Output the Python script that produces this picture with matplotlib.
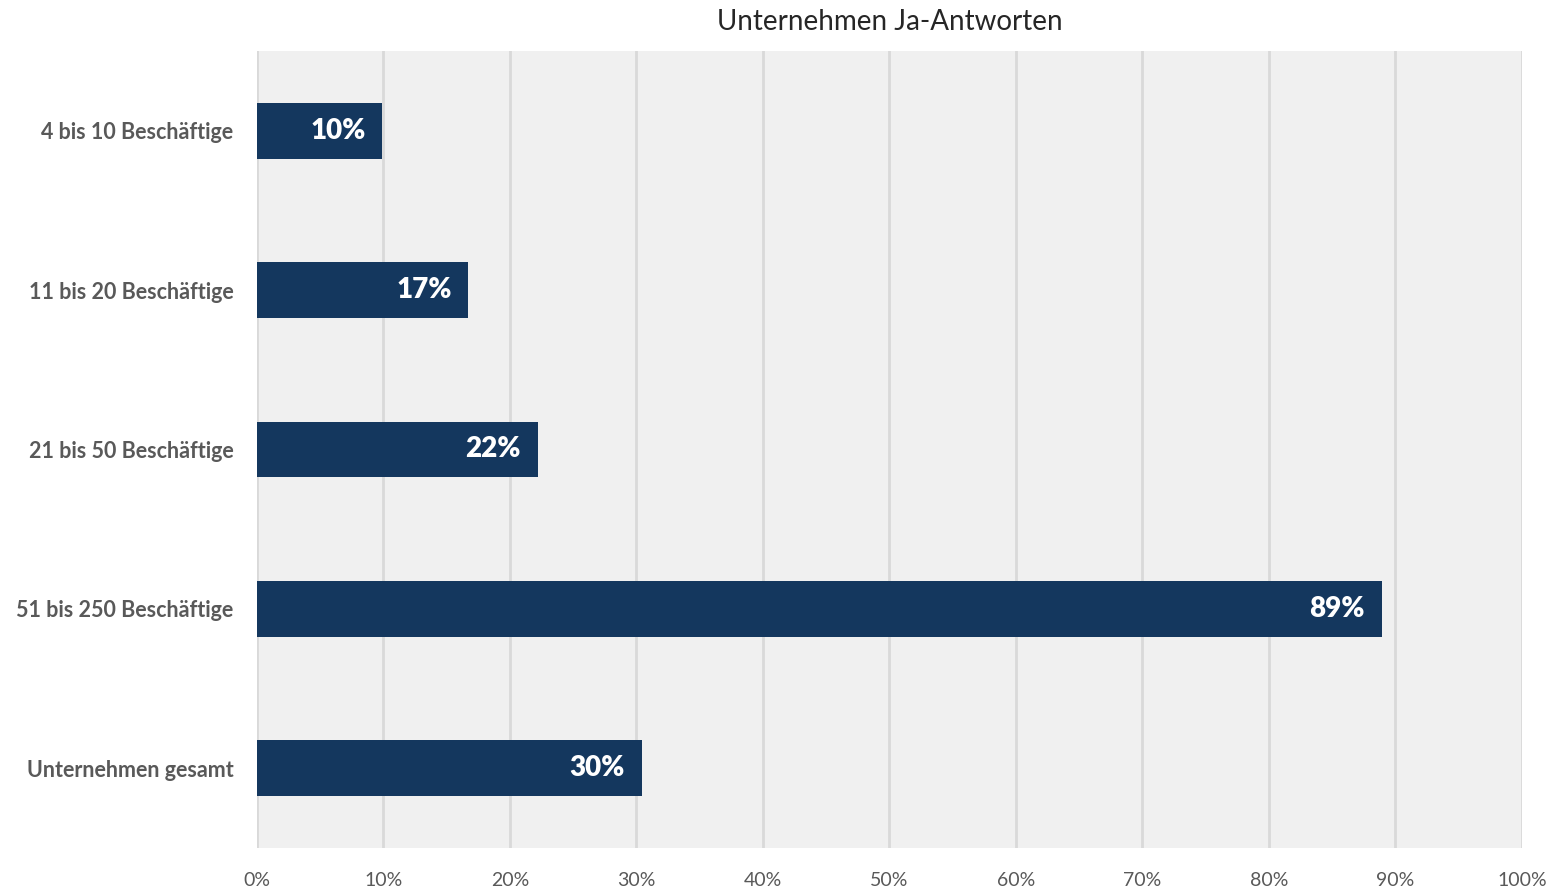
import matplotlib.pyplot as plt
import numpy as np

categories = ['4 bis 10 Beschäftige', '11 bis 20 Beschäftige', '21 bis 50 Beschäftige',
              '51 bis 250 Beschäftige', 'Unternehmen gesamt']
values = [9.9, 16.7, 22.2, 88.9, 30.4]
value_labels = ['10%', '17%', '22%', '89%', '30%']
ticks = [0, 10, 20, 30, 40, 50, 60, 70, 80, 90, 100]

plt.rcParams['font.family'] = ['Lato', 'DejaVu Sans']
fig = plt.figure(figsize=(15.61, 8.9), dpi=100)
ax = fig.add_axes([0.1646, 0.0472, 0.9750 - 0.1646, 0.9427 - 0.0472])
ax.set_facecolor('#f0f0f0')

y = np.arange(len(categories))
bars = ax.barh(y, values, height=0.35, color='#14375e', zorder=3)

for yi, v, lab in zip(y, values, value_labels):
    ax.annotate(lab, (v, yi), xytext=(-12, 0), textcoords='offset points',
                ha='right', va='center', color='white', fontsize=20,
                fontweight='heavy', zorder=4)

ax.set_xlim(0, 100)
ax.set_ylim(len(categories) - 0.5, -0.5)
ax.set_xticks(ticks)
ax.set_xticklabels([f'{t}%' for t in ticks], fontsize=14, color='#595959')
ax.set_yticks(y)
ax.set_yticklabels(categories, fontsize=15.5, fontweight='bold', color='#595959')
ax.tick_params(axis='both', length=0)
ax.tick_params(axis='x', pad=17)
ax.tick_params(axis='y', pad=17)

ax.grid(axis='x', color='#d9d9d9', linewidth=2, zorder=1)
for s in ax.spines.values():
    s.set_visible(False)

ax.set_title('Unternehmen Ja-Antworten', fontsize=20, fontweight='normal',
             color='#262626', pad=15)

fig.savefig('out.png', dpi=100)
